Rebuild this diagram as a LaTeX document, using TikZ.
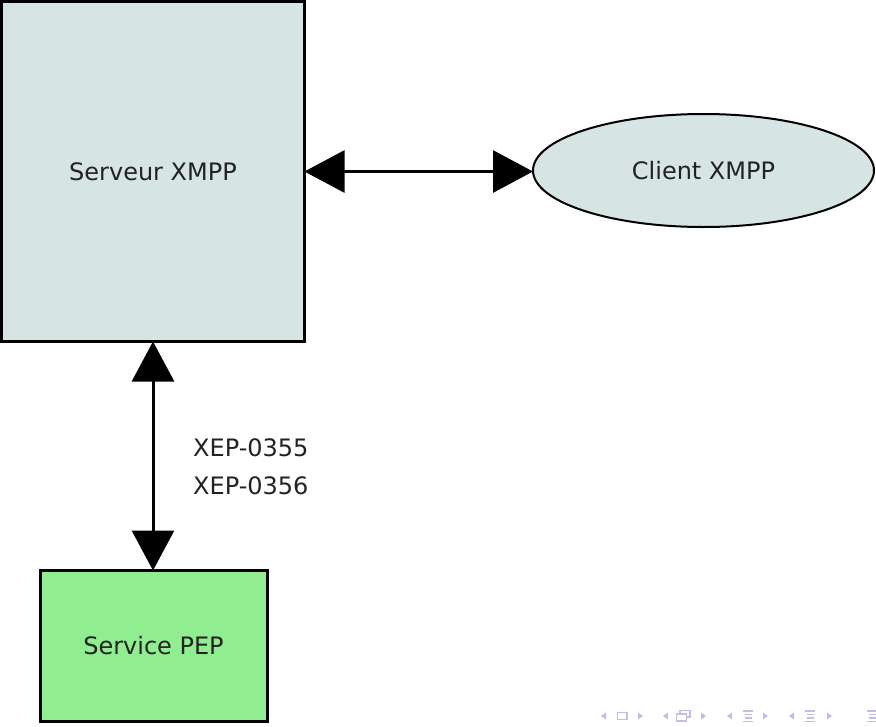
\documentclass[tikz,border=0pt]{standalone}
\usepackage{fontspec}
\setmainfont{DejaVu Sans}
\usetikzlibrary{arrows.meta,shapes.geometric}

\definecolor{srvfill}{RGB}{214,228,228}
\definecolor{pepfill}{RGB}{144,238,144}
\definecolor{navcol}{RGB}{190,190,230}
\definecolor{txtcol}{RGB}{34,34,34}

\tikzset{
  bigtip/.tip={Triangle[length=40pt,width=42pt]},
  link/.style={line width=3pt,bigtip-bigtip},
  txt/.style={font=\fontsize{24}{28}\selectfont,text=txtcol}
}

\begin{document}
\begin{tikzpicture}[x=1pt,y=-1pt]
        \useasboundingbox (0,0) rectangle (876,726);

        % Draw the server
        \node[draw,line width=3pt,fill=srvfill,minimum width=303pt,minimum height=340pt,inner sep=0pt,outer sep=0pt,txt] (server) at (153,171.5) {Serveur XMPP};

        % Draw the client
        \node[draw,ellipse,line width=2pt,fill=srvfill,minimum width=341pt,minimum height=113pt,inner sep=0pt,outer sep=0pt,txt] (client) at (703.5,170.5) {Client XMPP};

        % Draw the PEP service
        \node[draw,line width=3pt,fill=pepfill,minimum width=227pt,minimum height=151pt,inner sep=0pt,outer sep=0pt,txt] (pep) at (153.5,646) {Service PEP};

        % Draw the links
        \draw[link] (server.east) -- (server.east -| client.west);
        \draw[link] (server.south) -- (server.south |- pep.north);

        % Labels
        \node[txt,anchor=west,inner sep=0pt] (xepa) at (193,448) {XEP-0355};
        \node[txt,anchor=west,inner sep=0pt] (xepb) at (193,486) {XEP-0356};

        % Navigation symbols
        \begin{scope}[navcol,fill=navcol,line width=1.3pt]
          \foreach \x in {601,663,727,789} {
            \fill (\x,716) -- (\x+5,712.5) -- (\x+5,719.5) -- cycle;
          }
          \foreach \x in {638,701,763,827} {
            \fill (\x+5,716) -- (\x,712.5) -- (\x,719.5) -- cycle;
          }
          \draw (617.5,712.5) rectangle (627,719.5);
          \draw (680,710.5) rectangle (690,717);
          \draw[fill=white] (676.5,714) rectangle (686.5,721);
          \foreach \x in {743,805,867} {
            \draw (\x,711) -- (\x+10,711);
            \draw (\x+2,714.5) -- (\x+9,714.5);
            \draw (\x+2,718) -- (\x+9,718);
            \draw (\x,721.5) -- (\x+10,721.5);
          }
        \end{scope}
    \end{tikzpicture}
\end{document}
